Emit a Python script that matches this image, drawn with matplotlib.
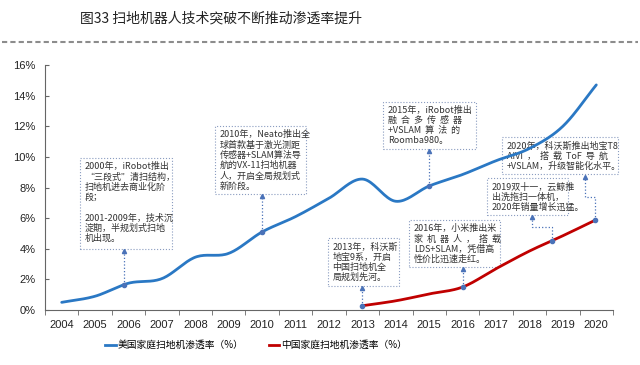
import numpy as np
import matplotlib

matplotlib.use("Agg")
import matplotlib.pyplot as plt
from matplotlib.lines import Line2D
from matplotlib.patches import Rectangle

years = [str(y) for y in range(2004, 2021)]
us_rate = [0.5, 0.9, 1.75, 2.05, 3.45, 3.7, 5.1, 6.1, 7.3, 8.55,
           7.1, 8.1, 8.85, 9.75, 10.55, 12.0, 14.7]
cn_years = [str(y) for y in range(2013, 2021)]
cn_rate = [0.28, 0.6, 1.05, 1.5, 2.7, 3.85, 4.85, 5.9]

us_label = "美国家庭扫地机渗透率（%）"
cn_label = "中国家庭扫地机渗透率（%）"
title = "图33 扫地机器人技术突破不断推动渗透率提升"

notes = [
    "2000年，iRobot推出\n“三段式”清扫结构，\n扫地机进去商业化阶\n段；\n\n2001-2009年，技术沉\n淀期，半规划式扫地\n机出现。",
    "2010年，Neato推出全\n球首款基于激光测距\n传感器+SLAM算法导\n航的VX-11扫地机器\n人，开启全局规划式\n新阶段。",
    "2015年，iRobot推出\n融  合  多  传  感  器\n+VSLAM  算  法  的\nRoomba980。",
    "2013年，科沃斯\n地宝9系，开启\n中国扫地机全\n局规划先河。",
    "2016年，小米推出米\n家  机  器  人  ，  搭  载\nLDS+SLAM，凭借高\n性价比迅速走红。",
    "2019双十一，云鲸推\n出洗拖扫一体机，\n2020年销量增长迅猛。",
    "2020年，科沃斯推出地宝T8\nAIVI  ，  搭  载  ToF  导  航\n+VSLAM，升级智能化水平。",
]

BLUE = "#2a78c4"
RED = "#c00000"
LINK = "#4a72b8"
BOX = "#8a9cc0"
CJK = ["Noto Sans CJK SC", "DejaVu Sans"]


def smooth(x, y, n=20):
    # cardinal (Catmull-Rom) spline through the points, like a smoothed Excel line
    x = np.asarray(x, float)
    y = np.asarray(y, float)
    m = np.gradient(y, x)
    m[1:-1] = (y[2:] - y[:-2]) / (x[2:] - x[:-2])
    xs, ys = [], []
    for i in range(len(x) - 1):
        h = x[i + 1] - x[i]
        t = np.linspace(0, 1, n, endpoint=False)
        h00 = 2 * t**3 - 3 * t**2 + 1
        h10 = t**3 - 2 * t**2 + t
        h01 = -2 * t**3 + 3 * t**2
        h11 = t**3 - t**2
        xs.append(x[i] + t * h)
        ys.append(h00 * y[i] + h10 * h * m[i] + h01 * y[i + 1] + h11 * h * m[i + 1])
    xs.append([x[-1]])
    ys.append([y[-1]])
    return np.concatenate(xs), np.concatenate(ys)


fig = plt.figure(figsize=(6.4, 3.65), dpi=100)
ax = fig.add_axes([45 / 640, 55 / 365, 568 / 640, 245 / 365])

x_us = np.arange(len(years))
x_cn = np.array([years.index(y) for y in cn_years])
us_x, us_y = smooth(x_us, us_rate)
cn_x, cn_y = smooth(x_cn, cn_rate)
ax.plot(us_x, us_y, color=BLUE, lw=2.0, solid_capstyle="round", zorder=6)
ax.plot(cn_x, cn_y, color=RED, lw=2.0, solid_capstyle="round", zorder=6)

ax.set_xlim(-0.5, len(years) - 0.5)
ax.set_ylim(0, 16)
ax.set_xticks(x_us, labels=years)
ax.set_xticks(np.arange(-0.5, len(years)), minor=True)
ax.tick_params(axis="x", which="major", length=0, pad=7, labelsize=8, labelcolor="#222222")
ax.tick_params(axis="x", which="minor", length=3.5, direction="out", color="#666666")
yt = np.arange(0, 17, 2)
ax.set_yticks(yt, labels=[f"{v}%" for v in yt])
ax.tick_params(axis="y", length=3, direction="in", pad=7, labelsize=8,
               labelcolor="#222222", color="#666666")
for lab in ax.get_xticklabels() + ax.get_yticklabels():
    lab.set_fontfamily("Liberation Sans")
for s in ("top", "right"):
    ax.spines[s].set_visible(False)
for s in ("left", "bottom"):
    ax.spines[s].set_color("#666666")
    ax.spines[s].set_linewidth(0.8)

# annotation boxes: (x0, x1, y0, y1) in data units
boxes = [
    (0.55, 3.30, 3.98, 9.93),
    (4.59, 7.31, 7.58, 12.02),
    (9.62, 12.39, 10.52, 13.61),
    (7.96, 10.10, 1.59, 4.72),
    (10.40, 13.12, 2.83, 5.88),
    (12.73, 15.15, 6.20, 8.62),
    (13.17, 16.64, 8.86, 11.30),
]
for (x0, x1, y0, y1), txt in zip(boxes, notes):
    ax.add_patch(Rectangle((x0, y0), x1 - x0, y1 - y0, fill=False,
                           edgecolor=BOX, lw=0.8, linestyle=":", clip_on=False, zorder=4))
    ax.annotate(txt, xy=(x0, y1), xytext=(3.5, -3.2), textcoords="offset points",
                ha="left", va="top", fontsize=6.5, family=CJK, color="#333333",
                linespacing=1.15, zorder=5, annotation_clip=False)

# connectors from the curves to the boxes
links = [
    (us_x, us_y, 1.87, None, None, 3.98),
    (us_x, us_y, 6.0, None, None, 7.58),
    (us_x, us_y, 11.0, None, None, 10.52),
    (cn_x, cn_y, 9.0, None, None, 1.59),
    (cn_x, cn_y, 12.0, None, None, 2.83),
    (cn_x, cn_y, 14.68, 14.08, 5.42, 6.20),
    (cn_x, cn_y, 15.97, 15.66, 7.40, 8.86),
]
for cx, cy, xp, xb, ymid, yb in links:
    yp = float(np.interp(xp, cx, cy))
    if xb is None:
        px, py = [xp, xp], [yp, yb]
        xb = xp
    else:
        px, py = [xp, xp, xb, xb], [yp, ymid, ymid, yb]
    ax.plot(px, py, color=LINK, lw=0.9, linestyle=":", zorder=4, clip_on=False)
    ax.plot([xp], [yp], marker="o", ms=3, color=LINK, zorder=7)
    ax.plot([xb], [yb - 0.15], marker="^", ms=3, color=LINK, zorder=5, clip_on=False)

handles = [Line2D([], [], color=BLUE, lw=2.0), Line2D([], [], color=RED, lw=2.0)]
fig.legend(handles, [us_label, cn_label], loc="center", ncol=2,
           bbox_to_anchor=(256 / 640, 1 - 345 / 365), frameon=False,
           prop={"family": CJK, "size": 7}, handlelength=1.1, handletextpad=0.2,
           columnspacing=2.6)

fig.text(80 / 640, 1 - 18 / 365, title, fontsize=10, family=CJK,
         color="#222222", va="center", ha="left")
fig.add_artist(Line2D([2 / 640, 638 / 640], [1 - 42 / 365] * 2, color="#8c8c8c",
                      lw=1.5, linestyle=(0, (2.5, 1.5))))

fig.savefig("out.png", dpi=100, facecolor="white")
